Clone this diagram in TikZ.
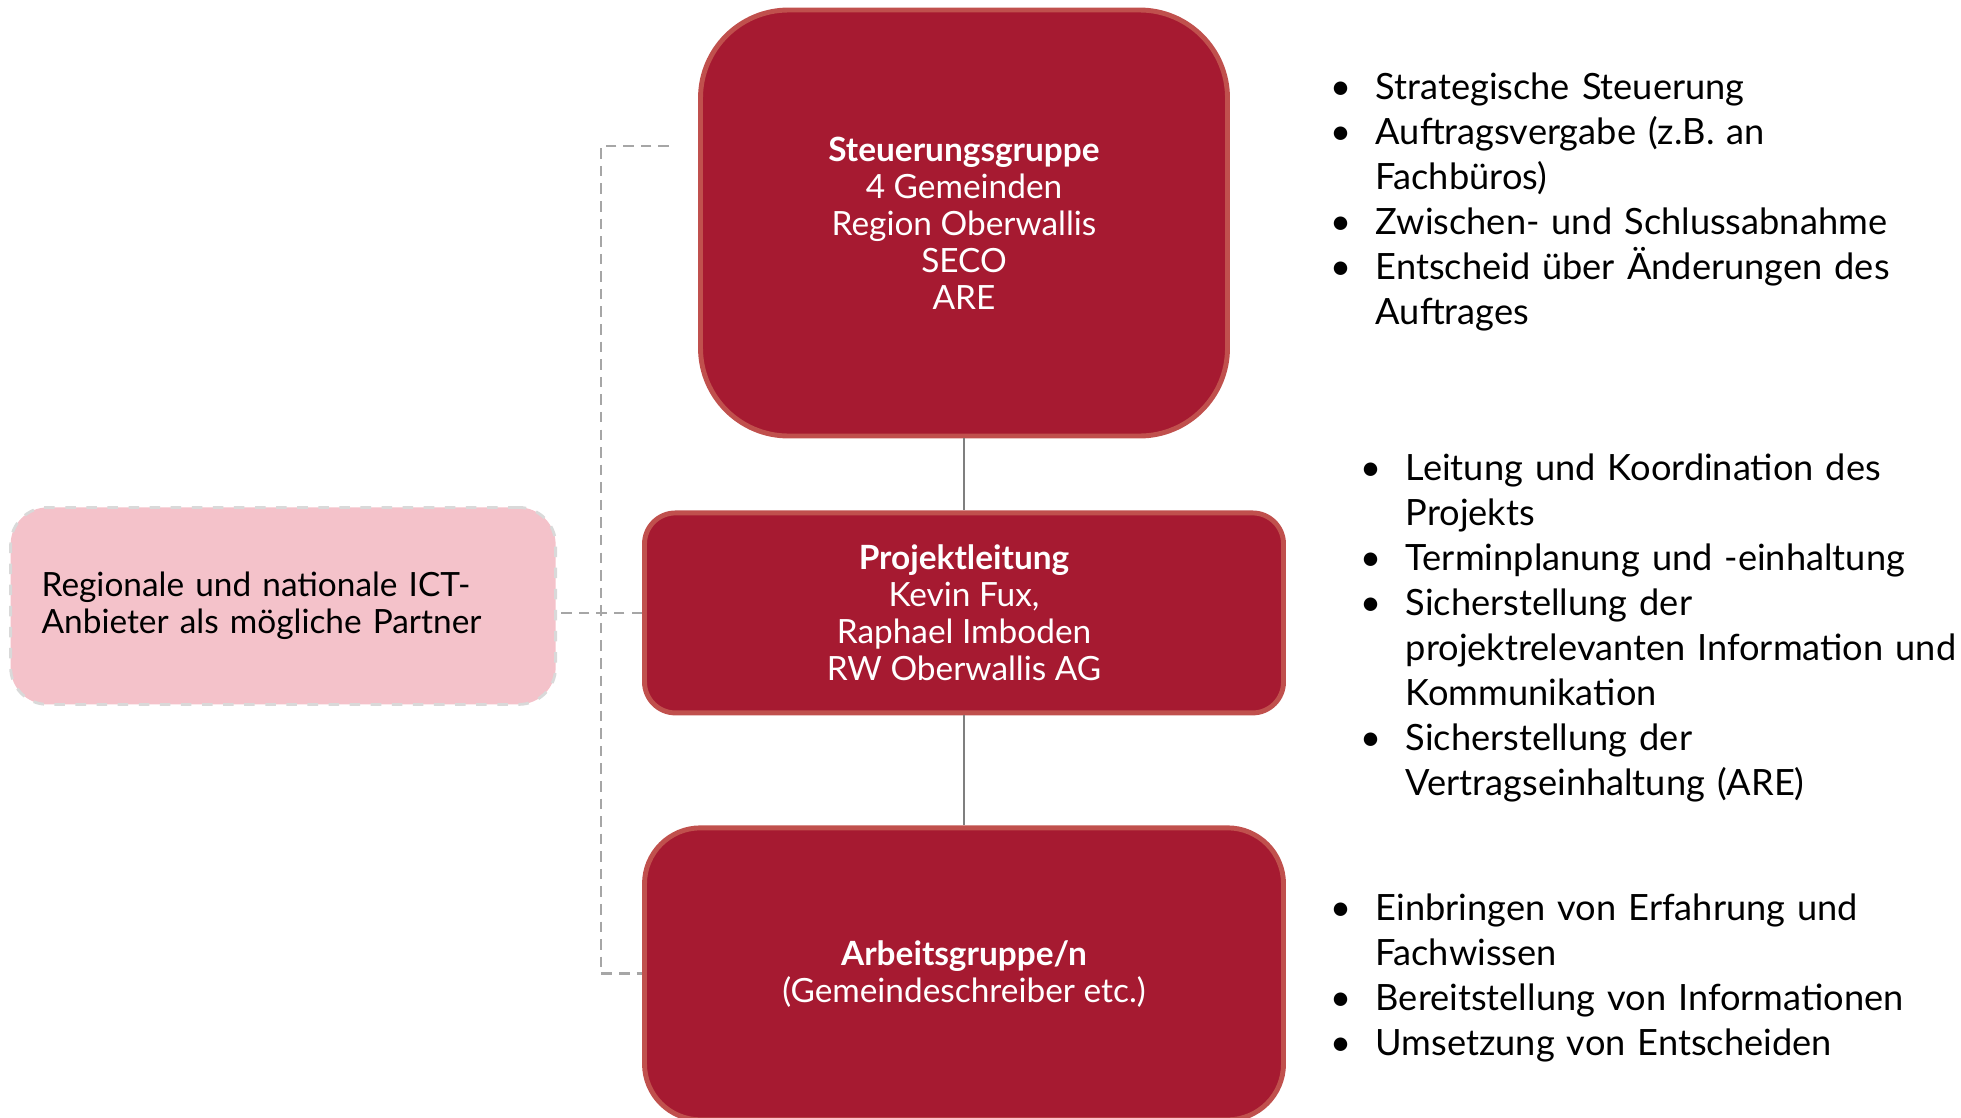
\documentclass[tikz,border=0pt]{standalone}
\usepackage{fontspec}
\setmainfont{Lato}
\usepackage{enumitem}
\usetikzlibrary{positioning,calc}

\definecolor{boxred}{HTML}{A61A31}
\definecolor{boxrim}{HTML}{C0504D}
\definecolor{partnerpink}{HTML}{F4C2CA}
\definecolor{rimgray}{HTML}{D9D9D9}
\definecolor{dashgray}{HTML}{A6A6A6}
\definecolor{linegray}{HTML}{7F7F7F}

\newcommand{\aufgaben}[1]{\begin{itemize}[nosep,leftmargin=0.39cm,labelsep=0.24cm,label=\textbullet]#1\end{itemize}}

\begin{document}
\begin{tikzpicture}[
    gremium/.style={draw=boxrim, line width=1.4pt, fill=boxred, text=white, align=center,
        font=\fontsize{9.5}{10.5}\selectfont, inner sep=0pt},
    aufgabe/.style={anchor=north west, inner sep=0pt, text width=6.3cm, align=left,
        font=\fontsize{10.3}{12.8}\selectfont},
    verbindung/.style={linegray, line width=0.6pt},
    partnerlinie/.style={dashgray, line width=0.8pt, dash pattern=on 3pt off 2pt}]
    \useasboundingbox (0,0) rectangle (19.61,-11.17);

    % Gremien
    \node[gremium, rounded corners=0.88cm, minimum width=5.27cm, minimum height=4.26cm] (steuer) at (9.64,-2.23)
        {\textbf{Steuerungsgruppe}\\4 Gemeinden\\Region Oberwallis\\SECO\\ARE};
    \node[gremium, rounded corners=0.31cm, minimum width=6.39cm, minimum height=2.00cm, below=0.72cm of steuer] (leitung)
        {\textbf{Projektleitung}\\Kevin Fux,\\Raphael Imboden\\RW Oberwallis AG};
    \node[gremium, rounded corners=0.56cm, minimum width=6.39cm, minimum height=2.92cm, below=1.10cm of leitung] (arbeit)
        {\textbf{Arbeitsgruppe/n}\\(Gemeindeschreiber etc.)};
    \node[fill=partnerpink, draw=rimgray, dashed, line width=0.8pt, rounded corners=0.37cm, text width=4.83cm,
        inner xsep=0.31cm, minimum height=1.97cm, align=left, font=\fontsize{9.5}{10.5}\selectfont,
        left=0.85cm of leitung, yshift=0.07cm] (partner)
        {Regionale und nationale ICT-\\Anbieter als mögliche Partner};

    % Verbindungen
    \draw[verbindung] (steuer) -- (leitung);
    \draw[verbindung] (leitung) -- (arbeit);
    \coordinate (partnerende) at (6.69,-1.46);
    \draw[partnerlinie] (partnerende) -| ($(arbeit.west)+(-0.41,0)$) -- (arbeit.west);
    \draw[partnerlinie] (leitung.west) -- (leitung.west -| partner.east);

    % Aufgaben
    \node[aufgabe] (aufgabenSteuer) at (13.36,-0.54) {\aufgaben{
        \item Strategische Steuerung
        \item Auftragsvergabe (z.B. an\\Fachbüros)
        \item Zwischen- und Schlussabnahme
        \item Entscheid über Änderungen des\\Auftrages}};
    \node[aufgabe] (aufgabenLeitung) at (13.66,-4.35) {\aufgaben{
        \item Leitung und Koordination des\\Projekts
        \item Terminplanung und -einhaltung
        \item Sicherstellung der\\projektrelevanten Information und\\Kommunikation
        \item Sicherstellung der\\Vertragseinhaltung (ARE)}};
    \node[aufgabe] (aufgabenArbeit) at (13.36,-8.75) {\aufgaben{
        \item Einbringen von Erfahrung und\\Fachwissen
        \item Bereitstellung von Informationen
        \item Umsetzung von Entscheiden}};
\end{tikzpicture}
\end{document}
